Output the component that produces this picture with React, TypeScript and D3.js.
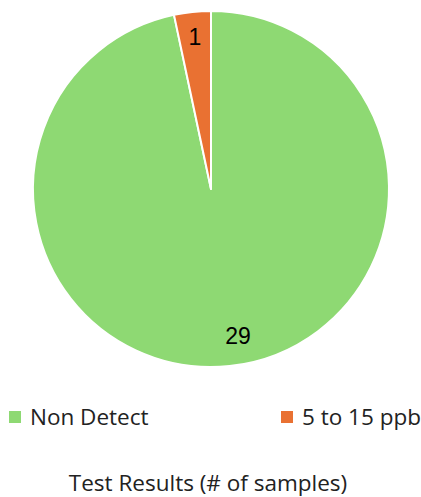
import * as d3 from 'd3';
import * as React from 'react';

const { useRef, useEffect } = React;

const width = 421;
const height = 497;

const categories = ['Non Detect', '5 to 15 ppb'];
const counts = [29, 1];
const colors = ['#8ed973', '#e97132'];
const title = 'Test Results (# of samples)';

const font = "'Open Sans', 'Noto Sans', sans-serif";
const labelFont = "'Liberation Sans', Arial, sans-serif";

export default () => {
  const svgRef = useRef<SVGSVGElement>(null);

  useEffect(() => {
    const svgEl = svgRef.current;
    if (!svgEl) return;

    const svg = d3.select(svgEl);
    svg.selectAll('*').remove();

    const cx = 211;
    const cy = 189;
    const radius = 178;

    const data = categories.map((name, i) => ({ name, value: counts[i] }));

    const pie = d3
      .pie<{ name: string; value: number }>()
      .sort(null)
      .value(d => d.value);

    const arcs = pie(data);

    const arc = d3
      .arc<d3.PieArcDatum<{ name: string; value: number }>>()
      .innerRadius(0)
      .outerRadius(radius);

    const labelArc = d3
      .arc<d3.PieArcDatum<{ name: string; value: number }>>()
      .innerRadius(radius * 0.86)
      .outerRadius(radius * 0.86);

    const color = d3.scaleOrdinal<string>().domain(categories).range(colors);

    const g = svg.append('g').attr('transform', `translate(${cx},${cy})`);

    g.selectAll('path')
      .data(arcs)
      .join('path')
      .attr('d', arc)
      .attr('fill', d => color(d.data.name))
      .attr('stroke', '#ffffff')
      .attr('stroke-width', 2)
      .attr('stroke-linejoin', 'round');

    g.selectAll('text')
      .data(arcs)
      .join('text')
      .attr('transform', d => {
        const [x, y] = labelArc.centroid(d);
        // Excel nudges the big slice label a little off its centroid
        return d.data.name === 'Non Detect' ? `translate(${x + 11},${y - 6})` : `translate(${x},${y})`;
      })
      .attr('text-anchor', 'middle')
      .attr('dy', '0.36em')
      .attr('font-family', labelFont)
      .attr('font-size', 23)
      .attr('fill', '#000')
      .text(d => d.value);

    // legend
    const legendX = [9, 281];
    const legend = svg
      .append('g')
      .selectAll('g')
      .data(categories)
      .join('g')
      .attr('transform', (d, i) => `translate(${legendX[i]},411)`);

    legend
      .append('rect')
      .attr('width', 12)
      .attr('height', 12)
      .attr('fill', d => color(d));

    legend
      .append('text')
      .attr('x', 21)
      .attr('y', 14)
      .attr('font-family', font)
      .attr('font-size', 22.5)
      .attr('fill', '#222')
      .text(d => d);

    svg
      .append('text')
      .attr('x', 208)
      .attr('y', 491)
      .attr('text-anchor', 'middle')
      .attr('font-family', font)
      .attr('font-size', 22.5)
      .attr('fill', '#222')
      .text(title);
  }, []);

  return (
    <svg
      ref={svgRef}
      width={width}
      height={height}
      style={{ position: 'absolute', left: 0, top: 0, background: '#fff' }}
    />
  );
};
